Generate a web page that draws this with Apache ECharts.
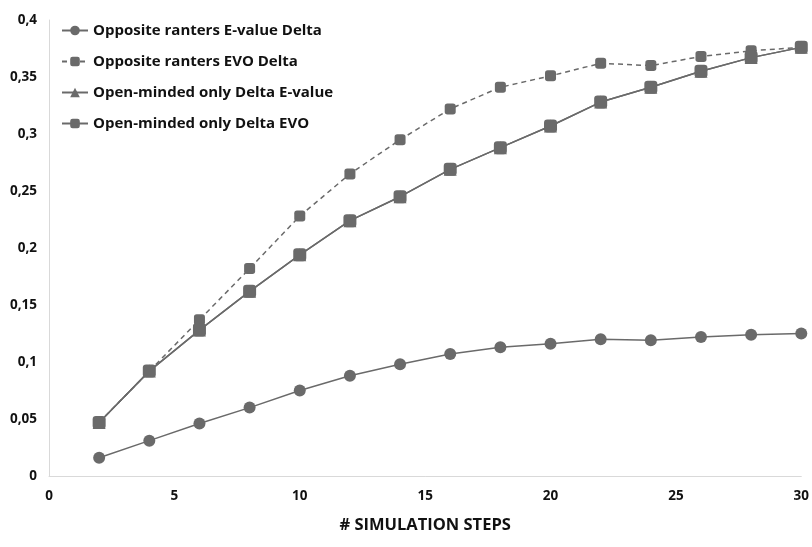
<!DOCTYPE html>
<html><head><meta charset="utf-8">
<script src="https://cdn.jsdelivr.net/npm/echarts@6/dist/echarts.min.js"></script>
<style>html,body{margin:0;padding:0;background:#fff}#c{width:812px;height:547px}</style>
</head><body><div id="c"></div>
<script>
var steps = [2,4,6,8,10,12,14,16,18,20,22,24,26,28,30];
var oppEvalue = [0.016,0.031,0.046,0.060,0.075,0.088,0.098,0.107,0.113,0.116,0.120,0.119,0.122,0.124,0.125];
var oppEvo = [0.047,0.092,0.137,0.182,0.228,0.265,0.295,0.322,0.341,0.351,0.362,0.360,0.368,0.373,0.376];
var openEvalue = [0.047,0.092,0.128,0.162,0.194,0.224,0.245,0.269,0.288,0.307,0.328,0.341,0.355,0.367,0.376];
var openEvo = [0.047,0.092,0.128,0.162,0.194,0.224,0.245,0.269,0.288,0.307,0.328,0.341,0.355,0.367,0.376];
var names = ['Opposite ranters E-value Delta','Opposite ranters EVO Delta','Open-minded only Delta E-value','Open-minded only Delta EVO'];
function pairs(v){return steps.map(function(s,i){return [s,v[i]];});}
var gray = '#6a6a6a';
var chart = echarts.init(document.getElementById('c'));
chart.setOption({
  animation:false,
  grid:{left:49,right:6,top:20,bottom:71},
  legend:{
    left:56, top:18, orient:'vertical', itemGap:16, itemWidth:26, itemHeight:12,
    data:names,
    textStyle:{fontFamily:'"Open Sans",sans-serif',fontWeight:'bold',fontSize:15,color:'#111'}
  },
  xAxis:{
    type:'value', min:0, max:30, interval:5,
    name:'# SIMULATION STEPS', nameLocation:'middle', nameGap:41,
    nameTextStyle:{fontFamily:'"Open Sans",sans-serif',fontWeight:'bold',fontSize:16.5,color:'#111'},
    axisLine:{show:true,lineStyle:{color:'#d9d9d9'}},
    axisTick:{show:false}, splitLine:{show:false},
    axisLabel:{fontFamily:'"Open Sans",sans-serif',fontWeight:'bold',fontSize:13.5,color:'#111',margin:13}
  },
  yAxis:{
    type:'value', min:0, max:0.4, interval:0.05,
    axisLine:{show:true,lineStyle:{color:'#d9d9d9'}},
    axisTick:{show:false}, splitLine:{show:false},
    axisLabel:{fontFamily:'"Open Sans",sans-serif',fontWeight:'bold',fontSize:13.5,color:'#111',margin:12,
      formatter:function(v){return String(Math.round(v*100)/100).replace('.',',');}}
  },
  series:[
    {name:names[0],type:'line',data:pairs(oppEvalue),symbol:'circle',symbolSize:12,
     itemStyle:{color:gray},lineStyle:{color:gray,width:1.5}},
    {name:names[1],type:'line',data:pairs(oppEvo),symbol:'roundRect',symbolSize:11,
     itemStyle:{color:gray},lineStyle:{color:gray,width:1.5,type:[5,4]}},
    {name:names[2],type:'line',data:pairs(openEvalue),symbol:'triangle',symbolSize:13,
     itemStyle:{color:gray},lineStyle:{color:gray,width:1.5}},
    {name:names[3],type:'line',data:pairs(openEvo),symbol:'roundRect',symbolSize:13,
     itemStyle:{color:gray},lineStyle:{color:gray,width:1.5}}
  ]
});
</script></body></html>
